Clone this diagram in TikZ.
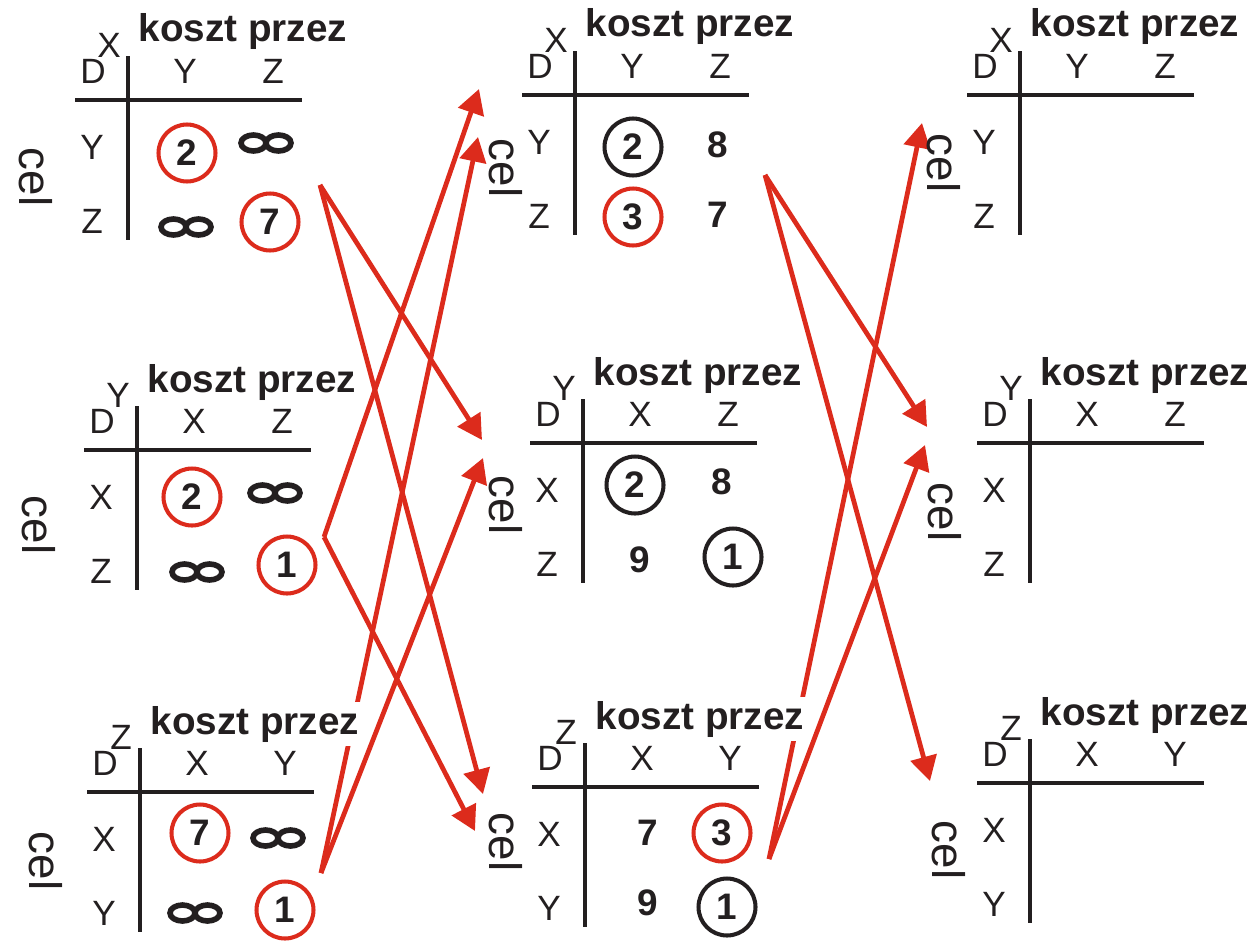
\documentclass[tikz,border=0pt]{standalone}
\usepackage{fontspec}
\setmainfont{Liberation Sans}
\usepackage{xcolor}
\usetikzlibrary{arrows.meta, backgrounds}
\definecolor{strzred}{HTML}{DC2B1C}
\definecolor{tusz}{HTML}{231F20}

% one distance table: name, origin (crossing of the lines), owner, two neighbours
\newcommand{\tabelka}[5]{%
  \coordinate (#1) at (#2);
  \node[naglowek] (#1-kp) at ([shift={(115,-68)}]#1) {koszt przez};
  \node[litera] (#1-d) at ([shift={(-35,-29)}]#1) {D};
  \node[litera] (#1-w) at ([shift={(-19,-55)}]#1) {#3};
  \node[litera] (#1-k1) at ([shift={(57,-29)}]#1) {#4};
  \node[litera] (#1-k2) at ([shift={(145,-29)}]#1) {#5};
  \node[litera] (#1-r1) at ([shift={(-36,47)}]#1) {#4};
  \node[litera] (#1-r2) at ([shift={(-36,121)}]#1) {#5};
  \draw[linia] ([shift={(-53,0)}]#1) -- ([shift={(174,0)}]#1);
  \draw[linia] ([shift={(0,-44)}]#1) -- ([shift={(0,140)}]#1);
}

\begin{document}
\begin{tikzpicture}[
    x=0.02cm, y=-0.02cm,
    naglowek/.style={font=\fontsize{22}{25}\selectfont\bfseries, text=tusz, fill=white, inner xsep=3pt, inner ysep=2pt},
    litera/.style={font=\fontsize{20}{23}\selectfont, text=tusz, inner sep=0pt},
    liczba/.style={font=\fontsize{21}{24}\selectfont\bfseries, text=tusz, inner sep=0pt},
    kolko/.style={liczba, circle, draw=tusz, line width=2.3pt, minimum size=1.14cm},
    kolkored/.style={kolko, draw=strzred},
    cel/.style={font=\fontsize{26}{30}\selectfont, rotate=-90, text=tusz, inner sep=0pt},
    linia/.style={line width=2.8pt, draw=tusz},
    strzalka/.style={-{Triangle[length=14pt,width=15pt]}, line width=2.7pt, draw=strzred},
    nieskon/.pic={\draw[line width=3.2pt, tusz] (-12.5,0) ellipse [x radius=12.5, y radius=8] (12.5,0) ellipse [x radius=12.5, y radius=8];}
]
\useasboundingbox (0,0) rectangle (1260,940);

% tables at time 0
\tabelka{x0}{128,100}{X}{Y}{Z}
\tabelka{y0}{137,450}{Y}{X}{Z}
\tabelka{z0}{140,792}{Z}{X}{Y}
% tables at time 1
\tabelka{x1}{575,95}{X}{Y}{Z}
\tabelka{y1}{583,443}{Y}{X}{Z}
\tabelka{z1}{585,787}{Z}{X}{Y}
% tables at time 2
\tabelka{x2}{1020,95}{X}{Y}{Z}
\tabelka{y2}{1030,443}{Y}{X}{Z}
\tabelka{z2}{1030,783}{Z}{X}{Y}

\node[cel] (x0-cel) at (36,177) {cel};
\node[cel] (y0-cel) at (39,525) {cel};
\node[cel] (z0-cel) at (46,861) {cel};
\node[cel] (x1-cel) at (506,168) {cel};
\node[cel] (y1-cel) at (506,505) {cel};
\node[cel] (z1-cel) at (506,842) {cel};
\node[cel] (x2-cel) at (944,163) {cel};
\node[cel] (y2-cel) at (945,512) {cel};
\node[cel] (z2-cel) at (949,850) {cel};

% entries
\node[kolkored] (x0-a) at (187,153) {2};
\pic (x0-b) at (266,143) {nieskon};
\pic (x0-c) at (186,227) {nieskon};
\node[kolkored] (x0-d) at (270,222) {7};

\node[kolkored] (y0-a) at (192,497) {2};
\pic (y0-b) at (275,493) {nieskon};
\pic (y0-c) at (197,572) {nieskon};
\node[kolkored] (y0-d) at (287,565) {1};

\node[kolkored] (z0-a) at (200,833) {7};
\pic (z0-b) at (278,838) {nieskon};
\pic (z0-c) at (195,913) {nieskon};
\node[kolkored] (z0-d) at (285,910) {1};

\node[kolko] (x1-a) at (633,147) {2};
\node[liczba] (x1-b) at (718,145) {8};
\node[kolkored] (x1-c) at (633,217) {3};
\node[liczba] (x1-d) at (718,215) {7};

\node[kolko] (y1-a) at (635,485) {2};
\node[liczba] (y1-b) at (722,482) {8};
\node[liczba] (y1-c) at (640,560) {9};
\node[kolko] (y1-d) at (733,557) {1};

\node[liczba] (z1-a) at (648,833) {7};
\node[kolkored] (z1-b) at (722,833) {3};
\node[liczba] (z1-c) at (648,903) {9};
\node[kolko] (z1-d) at (727,907) {1};

% where the arrows leave and land
\coordinate (x0-out) at (320,185);
\coordinate (y0-out) at (324,537);
\coordinate (z0-out) at (321,873);
\coordinate (x1-out) at (765,175);
\coordinate (z1-out) at (769,859);
\coordinate (x1-in1) at (479,89);
\coordinate (x1-in2) at (478,137);
\coordinate (y1-in1) at (482,440);
\coordinate (y1-in2) at (483,458);
\coordinate (z1-in1) at (483,794);
\coordinate (z1-in2) at (475,831);
\coordinate (x2-in1) at (922,123);
\coordinate (y2-in1) at (927,427);
\coordinate (y2-in2) at (925,445);
\coordinate (z2-in1) at (930,781);

\begin{scope}[on background layer]
\draw[strzalka] (x0-out) -- (y1-in1);
\draw[strzalka] (x0-out) -- (z1-in1);
\draw[strzalka] (y0-out) -- (x1-in1);
\draw[strzalka] (y0-out) -- (z1-in2);
\draw[strzalka] (z0-out) -- (x1-in2);
\draw[strzalka] (z0-out) -- (y1-in2);
\draw[strzalka] (x1-out) -- (y2-in1);
\draw[strzalka] (x1-out) -- (z2-in1);
\draw[strzalka] (z1-out) -- (x2-in1);
\draw[strzalka] (z1-out) -- (y2-in2);
\end{scope}
\end{tikzpicture}
\end{document}
